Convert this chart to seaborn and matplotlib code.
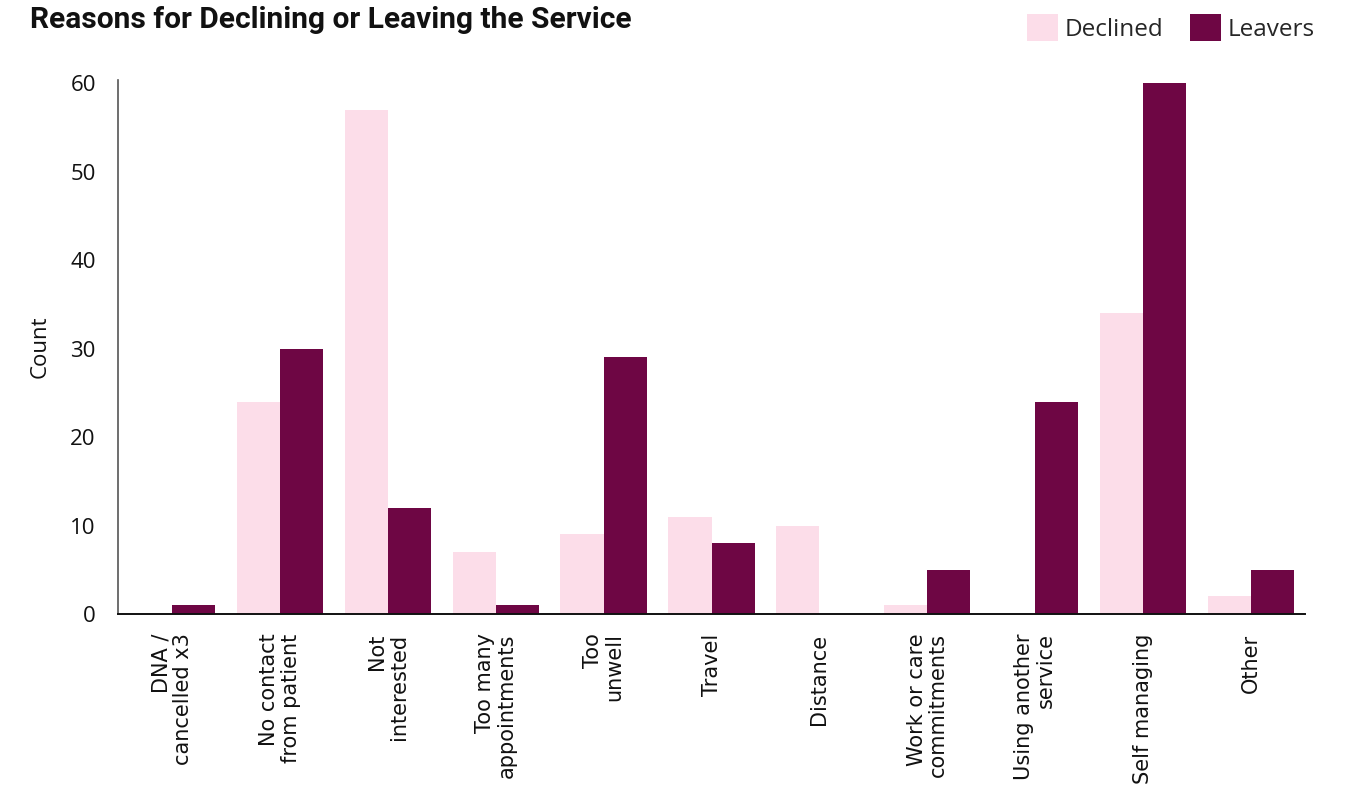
import matplotlib
matplotlib.use("Agg")
import matplotlib.pyplot as plt
from matplotlib.patches import Patch
import seaborn as sns
import pandas as pd

categories = [
    "DNA /\ncancelled x3",
    "No contact\nfrom patient",
    "Not\ninterested",
    "Too many\nappointments",
    "Too\nunwell",
    "Travel",
    "Distance",
    "Work or care\ncommitments",
    "Using another\nservice",
    "Self managing",
    "Other",
]
declined = [0, 24, 57, 7, 9, 11, 10, 1, 0, 34, 2]
leavers = [1, 30, 12, 1, 29, 8, 0, 5, 24, 60, 5]
series = ["Declined", "Leavers"]
colors = {"Declined": "#fcdde9", "Leavers": "#6e0644"}
y_ticks = [0, 10, 20, 30, 40, 50, 60]

df = pd.DataFrame({
    "Reason": categories * 2,
    "Series": ["Declined"] * len(categories) + ["Leavers"] * len(categories),
    "Count": declined + leavers,
})

sns.set_theme(style="white")
plt.rcParams["font.family"] = ["DejaVu Sans"]
sans = ["Open Sans", "DejaVu Sans"]

fig = plt.figure(figsize=(13.48, 7.89), dpi=100)
ax = fig.add_axes([118 / 1348, 1 - 614 / 789, (1305 - 118) / 1348, (614 - 80) / 789])

sns.barplot(
    data=df, x="Reason", y="Count", hue="Series", order=categories,
    hue_order=series, palette=colors, width=0.8, gap=0,
    linewidth=0, edgecolor="none", saturation=1, legend=False, ax=ax,
)

ax.set_xlim(-0.5, len(categories) - 0.5)
ax.set_ylim(0, 60.35)
ax.set_yticks(y_ticks)
ax.set_yticklabels([str(t) for t in y_ticks], fontsize=16, family=sans, color="#111111")
ax.set_xticks(range(len(categories)))
ax.set_xticklabels(categories, rotation=90, fontsize=15, ha="center", va="top",
                   multialignment="right", color="#111111", linespacing=1.1)
ax.tick_params(axis="both", length=0)
ax.tick_params(axis="y", pad=16)
ax.tick_params(axis="x", pad=14)
ax.set_xlabel("")
ax.set_ylabel("Count", fontsize=16, family=sans, labelpad=14, color="#111111")

for side in ["top", "right"]:
    ax.spines[side].set_visible(False)
ax.spines["left"].set_color("#555555")
ax.spines["left"].set_linewidth(1.2)
ax.spines["bottom"].set_color("#111111")
ax.spines["bottom"].set_linewidth(1.4)

fig.text(30 / 1348, 1 - 20 / 789, "Reasons for Declining or Leaving the Service",
         fontsize=21.5, fontweight="bold", va="center", ha="left",
         family=["Liberation Sans Narrow", "Roboto", "DejaVu Sans"], color="#111111")

handles = [Patch(facecolor=colors[s], edgecolor="none", label=s) for s in series]
fig.legend(handles=handles, loc="upper right", bbox_to_anchor=(1337 / 1348, 1 + 8 / 789),
           ncol=2, frameon=False, handlelength=1.25, handleheight=1.35,
           handletextpad=0.3, columnspacing=1.1,
           prop={"family": sans, "size": 17.5})

fig.savefig("out.png", dpi=100)
